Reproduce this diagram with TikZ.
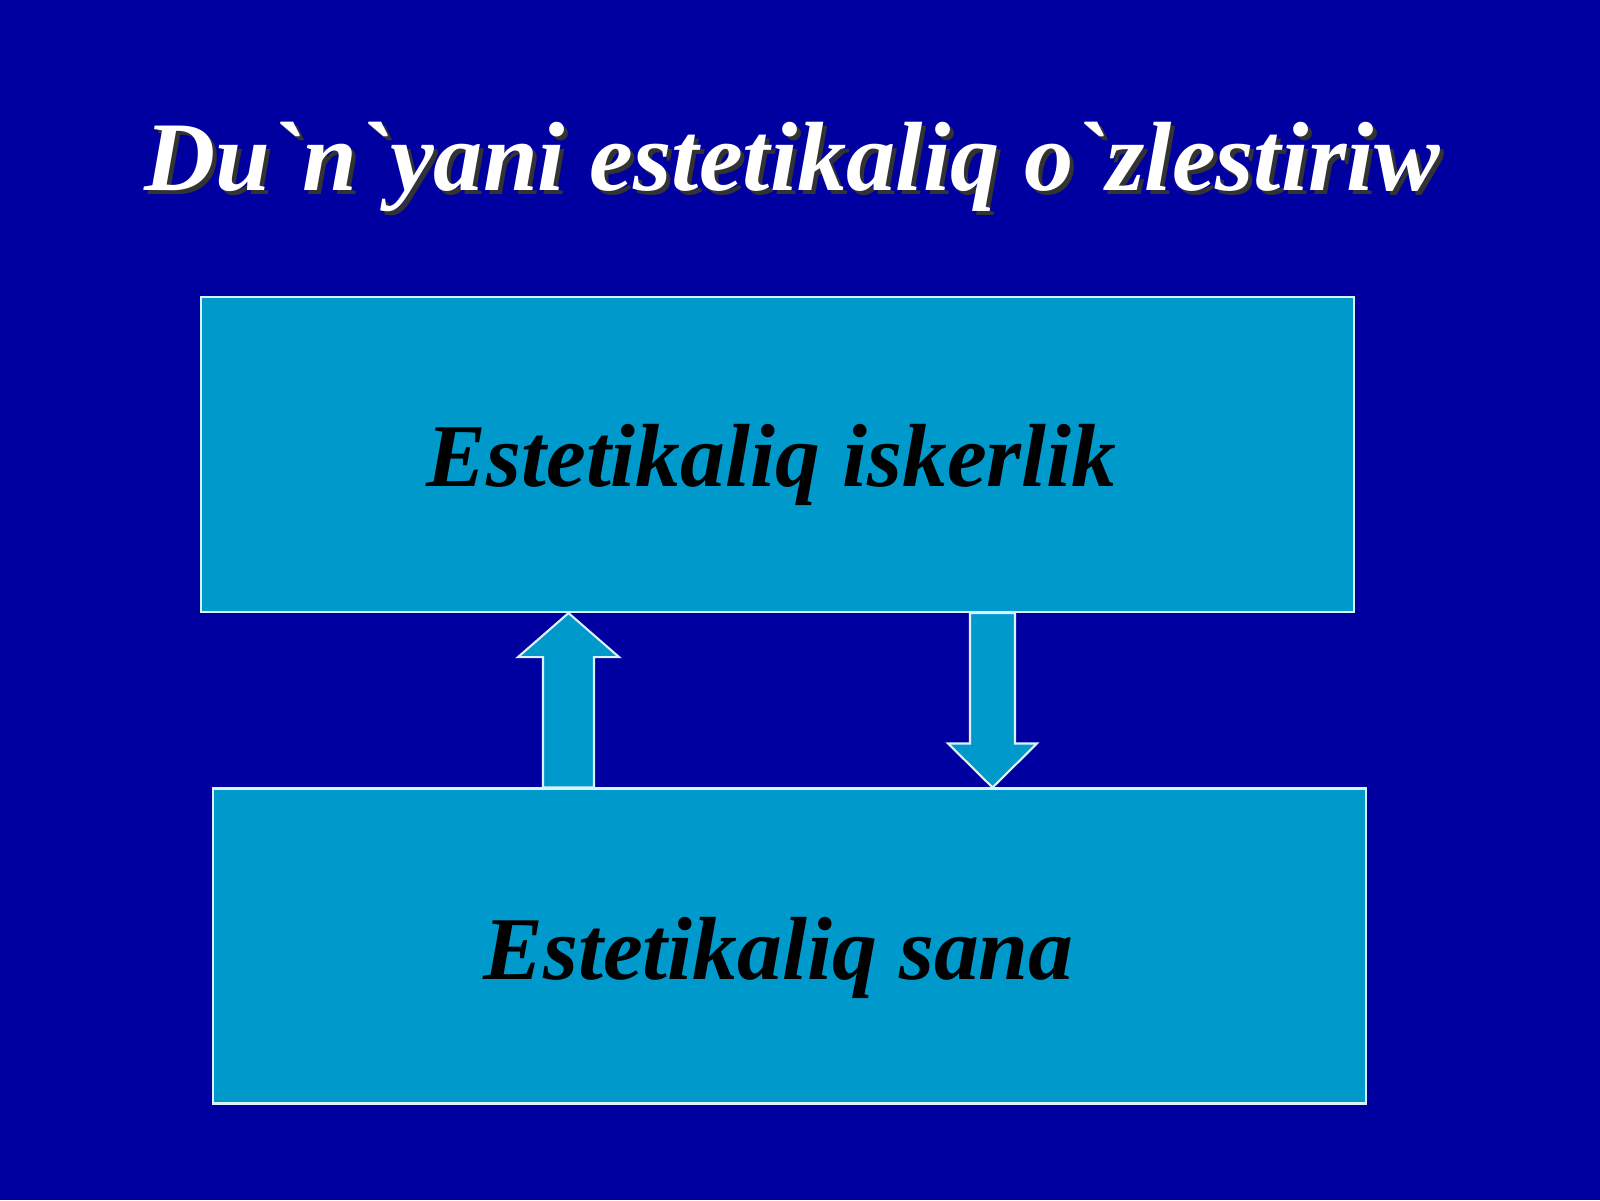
\documentclass[tikz,border=0pt]{standalone}
\usepackage{fontspec}
\setmainfont{Liberation Serif}
\usepackage{xcolor}
\usetikzlibrary{calc,positioning}

\definecolor{slideblue}{RGB}{0,0,160}
\definecolor{boxcyan}{RGB}{0,153,204}

\begin{document}
\begin{tikzpicture}[
  box/.style={draw=white!85!cyan,line width=0.6pt,fill=boxcyan,minimum width=11.53cm,minimum height=3.15cm},
  boxtext/.style={font=\fontsize{25.5}{30}\selectfont\bfseries\itshape,text=black},
  titletext/.style={font=\fontsize{28}{34}\selectfont\bfseries\itshape},
  blockarrow/.style={draw=white!85!cyan,line width=0.6pt,fill=boxcyan,line join=miter}
]
% Background
\fill[slideblue] (0,0) rectangle (16,12);
\useasboundingbox (0,0) rectangle (16,12);

% Title with shadow
\node[titletext,text=black!80] (shadow) at (7.96,10.29) {Du\textasciigrave n\textasciigrave yani estetikaliq o\textasciigrave zlestiriw};
\node[titletext,text=white] (title) at (7.92,10.33) {Du\textasciigrave n\textasciigrave yani estetikaliq o\textasciigrave zlestiriw};

% Boxes
\node[box] (iskerlik) at (7.775,7.455) {};
\node[box] (sana) at (7.895,2.54) {};
\node[boxtext] (iskerliktext) at ([xshift=-0.06cm,yshift=-0.10cm]iskerlik.center) {Estetikaliq iskerlik};
\node[boxtext] (sanatext) at ([xshift=-0.11cm,yshift=-0.12cm]sana.center) {Estetikaliq sana};

% Block arrows
\coordinate (upx) at (5.685,0);
\coordinate (downx) at (9.925,0);
\draw[blockarrow] let \p1=(sana.north -| upx), \p2=(iskerlik.south -| upx) in
  (\x1-0.255cm,\y1) -- (\x1-0.255cm,\y2-0.44cm) -- (\x1-0.505cm,\y2-0.44cm) -- (\x2,\y2)
  -- (\x1+0.505cm,\y2-0.44cm) -- (\x1+0.255cm,\y2-0.44cm) -- (\x1+0.255cm,\y1) -- cycle;
\draw[blockarrow] let \p1=(iskerlik.south -| downx), \p2=(sana.north -| downx) in
  (\x1-0.225cm,\y1) -- (\x1-0.225cm,\y2+0.44cm) -- (\x1-0.445cm,\y2+0.44cm) -- (\x2,\y2)
  -- (\x1+0.445cm,\y2+0.44cm) -- (\x1+0.225cm,\y2+0.44cm) -- (\x1+0.225cm,\y1) -- cycle;
\end{tikzpicture}
\end{document}
